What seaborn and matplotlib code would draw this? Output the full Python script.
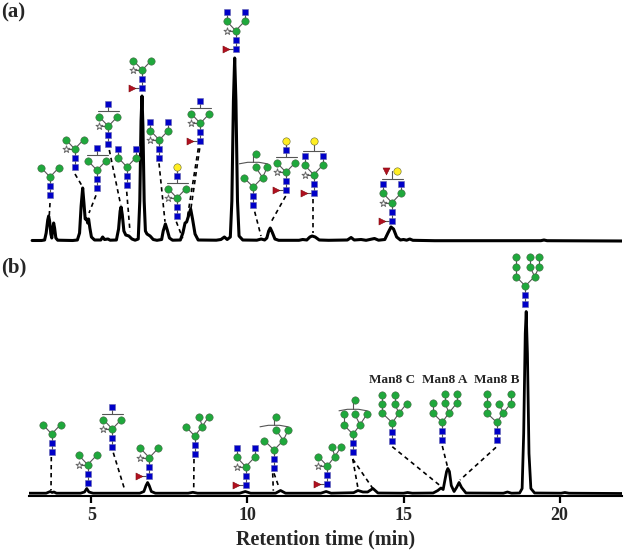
import matplotlib
matplotlib.use("Agg")
import matplotlib.pyplot as plt
import seaborn as sns

# ------------------------------------------------------------
# Chromatograms (a) and (b) with glycan cartoons on top
# ------------------------------------------------------------

time_a = [3.1, 3.4, 3.5, 3.55, 3.6, 3.63, 3.66, 3.7, 3.73, 3.76, 3.79, 3.82, 3.86, 3.92, 4.4, 4.55,
          4.62, 4.67, 4.72, 4.76, 4.8, 4.85, 4.88, 4.91, 4.95, 5.0, 5.1, 5.3, 5.36, 5.42, 5.53, 5.6,
          5.8, 5.87, 5.92, 5.95, 5.99, 6.04, 6.1, 6.2, 6.3, 6.4, 6.5, 6.55, 6.59, 6.62, 6.65, 6.69,
          6.73, 6.78, 6.88, 6.98, 7.1, 7.25, 7.3, 7.37, 7.43, 7.5, 7.6, 7.85, 7.93, 8.0, 8.05, 8.1,
          8.18, 8.24, 8.32, 8.42, 9.0, 9.15, 9.26, 9.35, 9.45, 9.5, 9.55, 9.59, 9.63, 9.68, 9.73, 9.85,
          10.3, 10.44, 10.55, 10.62, 10.68, 10.73, 10.79, 10.88, 11.0, 11.65, 11.77, 11.9, 12.0, 12.07,
          12.17, 12.3, 12.6, 13.2, 13.32, 13.42, 13.64, 13.8, 14.07, 14.2, 14.4, 14.5, 14.6, 14.68,
          14.78, 14.9, 15.0, 15.1, 15.2, 15.3, 16.0, 19.4, 19.5, 19.6, 22.0]
signal_a = [0.5, 0.5, 1, 8, 21, 25, 20, 7, 3, 12, 18, 13, 3, 0.8, 0.5, 1,
            8, 35, 53, 38, 22, 22, 18, 22, 13, 4, 1, 1, 4, 1.5, 2, 0.8,
            1, 12, 30, 34, 26, 10, 6, 5, 2, 0.8, 2, 40, 120, 145, 115, 40,
            10, 7, 5, 1.5, 0.7, 1.5, 10, 17, 11, 3, 0.8, 1, 8, 18, 19, 24,
            32, 22, 7, 1, 0.8, 1.5, 4, 1.5, 4, 40, 140, 183, 140, 40, 5, 1,
            0.8, 2, 1, 3, 10, 13, 9, 2, 0.7, 0.7, 1.5, 1, 4, 5,
            4, 1, 0.7, 1, 3.5, 1, 1.5, 0.7, 2.5, 0.8, 1.5, 8, 14, 12,
            4, 1, 1.5, 0.8, 2, 0.7, 0.3, 0.3, 1, 0.3, 0]

time_b = [3.0, 3.55, 3.68, 3.74, 3.8, 3.88, 4.65, 4.78, 4.85, 4.92, 5.05, 6.55, 6.68, 6.75, 6.8, 6.85,
          6.92, 7.05, 8.1, 8.25, 8.4, 9.75, 9.93, 10.1, 10.9, 11.06, 11.22, 12.35, 12.52, 12.68, 13.4,
          13.54, 13.7, 13.85, 14.02, 14.18, 15.0, 15.13, 15.28, 15.95, 16.1, 16.2, 16.27, 16.33, 16.38,
          16.42, 16.47, 16.53, 16.62, 16.7, 16.78, 16.86, 17.0, 18.2, 18.33, 18.46, 18.72, 18.8, 18.85,
          18.9, 18.93, 18.97, 19.02, 19.08, 19.2, 20.05, 20.17, 20.3, 22.0]
signal_b = [0.3, 0.3, 2, 1, 1.5, 0.3, 0.3, 1.5, 5, 1.5, 0.3, 0.3, 2, 8, 11, 8,
            2, 0.3, 0.3, 1.2, 0.3, 0.3, 2, 0.3, 0.3, 3, 0.3, 0.3, 2, 0.3, 0.8,
            3, 1.5, 1.5, 5, 0.5, 0.3, 1, 0.3, 0.5, 3, 5.5, 4, 14, 22,
            25, 22, 8, 2, 6, 11, 6, 0.5, 0.3, 1.5, 0.3, 0.5, 5, 60,
            160, 182, 140, 40, 5, 0.5, 0.3, 1, 0.3, 0]

tick_vals = [5, 10, 15, 20]
man8_labels = ["Man8 C", "Man8 A", "Man8 B"]
x_label = "Retention time (min)"
panel_labels = ["(a)", "(b)"]

# ---- figure geometry, everything below here is layout ----
W, H = 625, 552
BLUE, GREEN, YELLOW, RED = "#0000C8", "#1FA83C", "#FFEE22", "#B01020"
SERIF = "Liberation Serif"
RES_SIZE = 24


def core(l=-9, r=9, h=-27.5):
    return [("G", 0, 0, None), ("G", 0, -9, 0), ("M", 0, -18, 1), ("M", l, h, 2), ("M", r, h, 2)]


# residue = (kind, dx, dy, parent index); bracket = (half width, dy)
TEMPLATES = {
    "m3": (core(), None),
    "gngn": (core() + [("G", -9, -36.5, 3), ("G", 9, -36.5, 4)], None),
    "gn": (core() + [("G", 0, -40.5, None)], (10.5, -33)),
    "galgn": (core() + [("G", 0, -40, None), ("Y", 0, -49, 5)], (10.5, -33)),
    "gngn_gal": (core() + [("G", -9, -36.5, 3), ("G", 9, -36.5, 4), ("Y", 0, -52, None)], (10.5, -42)),
    "gngn_fgal": (core() + [("G", -9, -36.5, 3), ("G", 9, -36.5, 4), ("F", -6, -49.5, None), ("Y", 5, -49.5, None)],
                  (10.5, -42)),
    "man4": (core(-9, 7.5) + [("M", 4.7, -37.3, 4), ("M", 14, -37.3, 4)], None),
    "man5": (core(-9.7, 9.3) + [("M", 2.3, -37.7, 4), ("M", 14, -37.7, 4), ("M", 2.3, -51, None)], (14, -42.7)),
    "man6": (core(-9.3, 7) + [("M", -9.3, -38.3, 3), ("M", 1.7, -38.3, 4), ("M", 14, -38.3, 4), ("M", 2.3, -52, None)],
             (14, -43)),
    "man8c": (core(-10, 6.7) + [("M", -10, -37, 3), ("M", -10, -46, 5), ("M", 2.3, -37, 4), ("M", 2.3, -46, 7),
                                ("M", 14.3, -37, 4)], None),
    "man8a": (core(-9.7, 6.7) + [("M", -9.7, -37, 3), ("M", 2.7, -37, 4), ("M", 14.3, -37, 4), ("M", 2.7, -46.3, 6),
                                 ("M", 14.3, -46.3, 7)], None),
    "man8b": (core(-10, 6.7) + [("M", -10, -36.7, 3), ("M", -10, -46, 5), ("M", 2, -36.7, 4), ("M", 14, -36.7, 4),
                                ("M", 14, -46.3, 8)], None),
    "man9": (core(-9.3, 9.3) + [("M", -9.3, -37.3, 3), ("M", -9.3, -46.7, 5), ("M", 4.7, -37.3, 4),
                                ("M", 4.7, -46.7, 7), ("M", 14, -37.3, 4), ("M", 14, -46.7, 9)], None),
}

# (template, x, y, xylose, fucose)
PLACED = [
    ("m3", 50, 195, 0, 0), ("m3", 74.7, 167, 1, 0), ("gn", 97, 188.3, 0, 0), ("gn", 108.3, 144.3, 1, 0),
    ("gngn", 127, 185, 0, 0), ("m3", 142.3, 88, 1, 1), ("gngn", 159.3, 158, 1, 0), ("galgn", 177, 216, 1, 0),
    ("gn", 200.3, 141.3, 1, 1), ("gngn", 235.7, 48.7, 1, 1), ("man5", 253.3, 205, 0, 0),
    ("galgn", 286, 190.3, 1, 1), ("gngn_gal", 313.7, 192.7, 1, 1), ("gngn_fgal", 392, 220.7, 1, 1),
    ("m3", 51.7, 452, 0, 0), ("m3", 87.7, 482.7, 1, 0), ("gn", 112.3, 447, 1, 0), ("m3", 149.3, 475.7, 1, 1),
    ("man4", 194.7, 454, 0, 0), ("gngn", 245.7, 484.7, 1, 1), ("man5", 274, 468, 0, 0), ("man4", 327.3, 484, 1, 1),
    ("man6", 353, 452.3, 0, 0), ("man8c", 392.3, 440.7, 0, 0), ("man8a", 442.3, 440.3, 0, 0),
    ("man8b", 496.7, 440.3, 0, 0), ("man9", 525.3, 304, 0, 0),
]

DASHES = [
    (50, 203, 49.3, 215), (75, 174, 82.7, 187), (96, 195.3, 89, 213), (109.3, 150, 120.7, 205),
    (126.7, 191.7, 130, 231.7), (159, 163.3, 165, 221.7), (176.3, 221.7, 182.7, 238.3),
    (198.3, 148.3, 186.7, 221.7), (199.7, 148.3, 190.7, 210), (254.7, 211.7, 261, 236),
    (285.7, 196, 270.7, 222.7), (313.3, 199, 313.3, 233.3), (51.3, 457, 51, 490),
    (113.3, 452.7, 125, 490.7), (194, 459, 193.7, 490.7), (272.7, 473.3, 273.3, 490.7),
    (274, 473.3, 279.3, 488.3), (352.7, 459, 358.3, 490), (352.7, 459, 372.7, 488.3),
    (392.3, 446.7, 439.3, 485), (442.3, 446, 447.3, 466), (496, 447.3, 460, 480),
]

MAN8_POS = [(392.5, 380), (445, 380), (497, 380)]


def place(ax, left, right, top, bottom):
    ax.set_position([left / W, 1 - bottom / H, (right - left) / W, (bottom - top) / H])


def draw_glycan(ov, name, x, y, xyl, fuc):
    residues, bracket = TEMPLATES[name]
    pts = [(x + dx, y + dy) for _, dx, dy, _ in residues]
    for (kind, dx, dy, parent), (px, py) in zip(residues, pts):
        if parent is not None:
            ov.plot([px, pts[parent][0]], [py, pts[parent][1]], color="#555555", lw=0.8, zorder=3)
    if xyl:
        ov.plot([x - 9, x], [y - 18, y - 18], color="#555555", lw=0.8, zorder=3)
        ov.scatter(x - 9, y - 18, marker="*", s=28, facecolor="white", edgecolor="#666666", lw=0.7, zorder=4)
    if fuc:
        ov.plot([x - 10, x], [y, y], color="#555555", lw=0.8, zorder=3)
        ov.scatter(x - 10, y, marker=">", s=26, color=RED, edgecolor="#700000", lw=0.3, zorder=4)
    for (kind, dx, dy, parent), (px, py) in zip(residues, pts):
        if kind == "G":
            ov.scatter(px, py, marker="s", s=RES_SIZE, color=BLUE, edgecolor="#6666aa", lw=0.4, zorder=5)
        elif kind == "M":
            ov.scatter(px, py, marker="o", s=RES_SIZE + 4, color=GREEN, edgecolor="#446644", lw=0.4, zorder=5)
        elif kind == "Y":
            ov.scatter(px, py, marker="o", s=RES_SIZE + 4, color=YELLOW, edgecolor="#666633", lw=0.4, zorder=5)
        elif kind == "F":
            ov.scatter(px, py, marker="v", s=RES_SIZE + 2, color=RED, edgecolor="#700000", lw=0.3, zorder=5)
    if bracket:
        half, by = bracket
        # wide brackets on the high-mannose cartoons bow up slightly
        bow = 1.5 if half > 12 else 0
        ov.plot([x - half, x - half * 0.4, x + half * 0.4, x + half],
                [y + by + bow, y + by, y + by, y + by + bow], color="#555555", lw=0.8, zorder=3)
        stem_top = min(p[1] for p in pts)
        ov.plot([x, x], [y + by, stem_top], color="#555555", lw=0.8, zorder=3)


def main():
    sns.set_theme(style="white")
    plt.rcParams["font.family"] = [SERIF, "DejaVu Serif"]
    fig = plt.figure(figsize=(W / 100, H / 100), dpi=100)

    # --- top trace, y units are px above its baseline at y=241 ---
    ax_a = fig.add_axes([0, 0, 1, 1])
    place(ax_a, 29, 622, 30, 245)
    sns.lineplot(x=time_a, y=signal_a, ax=ax_a, color="black", lw=2.2, estimator=None, sort=False)
    ax_a.set_xlim(3, 22)
    ax_a.set_ylim(-4, 211)
    ax_a.axis("off")

    # --- bottom trace with the only visible axis ---
    ax_b = fig.add_axes([0, 0, 1, 1])
    place(ax_b, 29, 622, 300, 496)
    sns.lineplot(x=time_b, y=signal_b, ax=ax_b, color="black", lw=2, estimator=None, sort=False)
    ax_b.set_xlim(3, 22)
    ax_b.set_ylim(-2.5, 193.5)
    ax_b.patch.set_alpha(0)
    ax_b.set_yticks([])
    ax_b.set_xticks(tick_vals)
    ax_b.set_xticklabels([str(t) for t in tick_vals], fontsize=13, fontweight="bold", family=SERIF)
    ax_b.tick_params(axis="x", length=5, width=1.6, color="black", pad=3, bottom=True)
    sns.despine(ax=ax_b, left=True)
    ax_b.spines["bottom"].set_linewidth(1.5)
    ax_b.spines["bottom"].set_color("black")
    ax_b.set_xlabel("")

    # --- overlay in picture pixels for glycans and annotations ---
    ov = fig.add_axes([0, 0, 1, 1])
    ov.set_xlim(0, W)
    ov.set_ylim(H, 0)
    ov.axis("off")

    for x0, y0, x1, y1 in DASHES:
        ov.plot([x0, x1], [y0, y1], color="black", lw=1.2, ls=(0, (2.6, 2.2)), zorder=2)
    for name, x, y, xyl, fuc in PLACED:
        draw_glycan(ov, name, x, y, xyl, fuc)

    for label, (x, y) in zip(man8_labels, MAN8_POS):
        ov.text(x, y, label, ha="center", va="center", fontsize=9.5, fontweight="bold", family=SERIF)
    ov.text(325.5, 539, x_label, ha="center", va="center", fontsize=14.5, fontweight="bold", family=SERIF)
    ov.text(1, 12, panel_labels[0], ha="left", va="center", fontsize=15, fontweight="bold", family=SERIF)
    ov.text(1, 267, panel_labels[1], ha="left", va="center", fontsize=15, fontweight="bold", family=SERIF)

    fig.savefig("out.png", dpi=100)


if __name__ == "__main__":
    main()
